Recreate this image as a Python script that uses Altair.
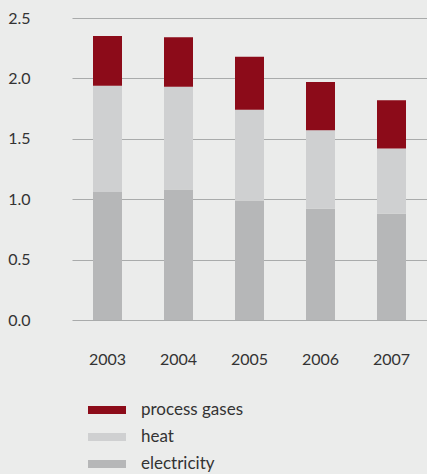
import altair as alt
import pandas as pd

years = ["2003", "2004", "2005", "2006", "2007"]
electricity = [1.06, 1.08, 0.99, 0.92, 0.88]
heat = [0.88, 0.85, 0.75, 0.65, 0.54]
process_gases = [0.41, 0.41, 0.44, 0.40, 0.40]

series_names = ["process gases", "heat", "electricity"]
series_colors = ["#8c0b19", "#cfd0d1", "#b6b7b8"]

rows = []
for i, y in enumerate(years):
    rows.append({"year": y, "series": "electricity", "value": electricity[i], "order": 0})
    rows.append({"year": y, "series": "heat", "value": heat[i], "order": 1})
    rows.append({"year": y, "series": "process gases", "value": process_gases[i], "order": 2})
df = pd.DataFrame(rows)

FONT = "Lato"

chart = alt.Chart(df).mark_bar(size=29).encode(
    x=alt.X("year:N", title=None, sort=years,
            scale=alt.Scale(paddingInner=0.59, paddingOuter=0.295),
            axis=alt.Axis(labelAngle=0, domain=False, ticks=False, tickSize=0,
                          labelPadding=31, labelFontSize=16, labelFont=FONT,
                          labelColor="#333333", grid=False)),
    y=alt.Y("value:Q", title=None, stack="zero",
            scale=alt.Scale(domain=[0, 2.5], nice=False),
            axis=alt.Axis(values=[0, 0.5, 1.0, 1.5, 2.0, 2.5], format=".1f",
                          domain=False, ticks=False, tickSize=0, labelPadding=42,
                          labelFontSize=16, labelFont=FONT, labelColor="#333333",
                          labelAlign="right", labelBaseline="middle",
                          grid=True, gridColor="#a9abab", gridWidth=1)),
    color=alt.Color("series:N", sort=series_names,
                    scale=alt.Scale(domain=series_names, range=series_colors),
                    legend=alt.Legend(title=None, orient="none", legendX=16, legendY=373,
                                      direction="vertical",
                                      symbolType="M-1,-0.21L1,-0.21L1,0.21L-1,0.21Z",
                                      symbolSize=1444, symbolStrokeWidth=0,
                                      labelFontSize=17, labelFont=FONT, labelColor="#333333",
                                      labelOffset=15, rowPadding=-11, padding=0)),
    order=alt.Order("order:Q", sort="ascending"),
).properties(
    width=355, height=302,
    autosize=alt.AutoSizeParams(type="none"),
    padding={"left": 72, "top": 18, "right": 0, "bottom": 154},
    background="#ebeceb",
).configure_view(stroke=None, fill="#ebeceb")

chart.save("out.html", embed_options={"renderer": "svg", "actions": False})
